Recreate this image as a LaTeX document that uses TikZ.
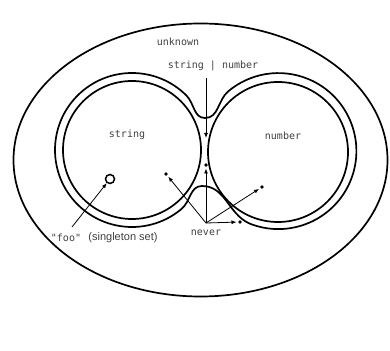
\documentclass[tikz,border=0pt]{standalone}
\usepackage{fontspec}
\setmonofont{DejaVu Sans Mono}
\setsansfont{Liberation Sans}
\usepackage{tikz}
\usetikzlibrary{positioning,arrows.meta,calc}

\begin{document}
\begin{tikzpicture}[
    x=1pt, y=1pt,
    setline/.style  = {draw=black, line width=1.7pt},
    typelbl/.style  = {font=\fontsize{10}{12}\selectfont\ttfamily, text=black!75, inner sep=1pt},
    notelbl/.style  = {font=\fontsize{11}{13}\selectfont\sffamily, text=black!75, inner sep=1pt},
    ptr/.style      = {draw=black, line width=0.8pt, -{Latex[length=5pt,width=4pt]}},
    elem/.style     = {circle, fill=black, inner sep=0pt, minimum size=3.6pt},
    single/.style   = {circle, draw=black, line width=1.5pt, inner sep=0pt, minimum size=9pt}
  ]
  \useasboundingbox (0,0) rectangle (390,350);

  % unknown
  \draw[setline] (200.5,190) ellipse [x radius=187, y radius=136.5];

  % string and number
  \draw[setline] (132,200) circle [radius=69];
  \draw[setline] (278,198) circle [radius=70];

  % string | number
  \coordinate (neck) at (205,232);
  \coordinate (bump) at (202,164);
  \draw[setline] (neck) to[out=180,in=-45] ($(132,200)+(45:77)$)
    arc[start angle=45, end angle=310, radius=77]
    to[out=40,in=180] (bump)
    to[out=0,in=155] ($(278,198)+(248:77)$)
    arc[start angle=248, end angle=490, radius=78]
    to[out=220,in=0] (neck);

  \node[typelbl] (unknownlbl) at (178,308) {unknown};
  \node[typelbl] (unionlbl)   at (213,284) {string | number};
  \node[typelbl] (stringlbl)  at (127,215) {string};
  \node[typelbl] (numberlbl)  at (283,214) {number};
  \node[typelbl] (neverlbl)   at (206,117) {never};
  \node[typelbl] (foolbl)     at (66,112)  {"foo"};
  \node[notelbl] (singlelbl)  at (123,112) {(singleton set)};

  \coordinate (unionhead) at (206,272);
  \coordinate (unionend)  at (206,212);
  \draw[ptr] (unionhead) -- (unionend);

  \node[single] (foo) at (110,171) {};
  \coordinate (footail) at (72,123);
  \draw[ptr] (footail) -- (foo);

  % never is inside every set
  \coordinate (nev) at (206,127);
  \node[elem] (inS)   at (166,176) {};
  \node[elem] (inU)   at (206,185) {};
  \node[elem] (inN)   at (262,163) {};
  \node[elem] (inK)   at (240,128) {};
  \foreach \d in {inS,inU,inN,inK}
    \draw[ptr, shorten >=1.5pt] (nev) -- (\d);
\end{tikzpicture}
\end{document}
